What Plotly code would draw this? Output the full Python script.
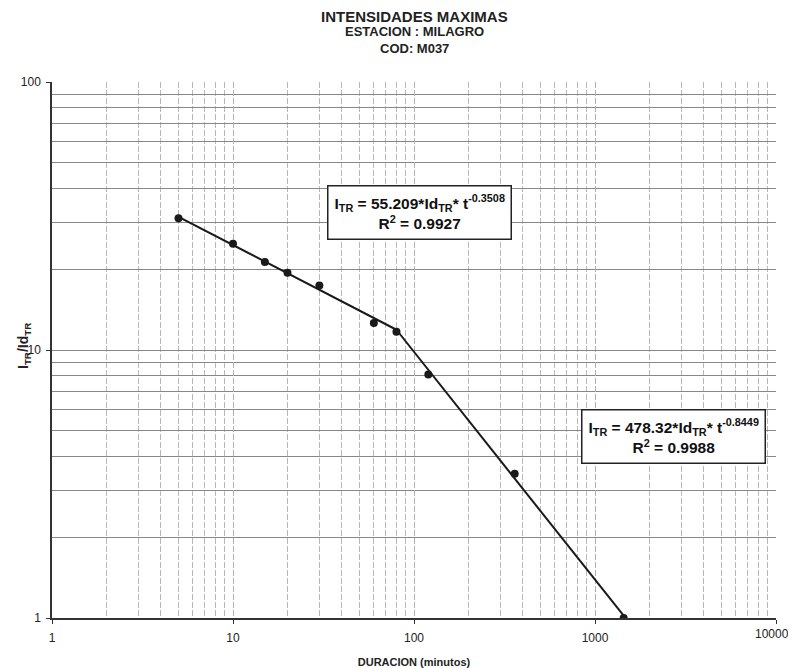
import plotly.graph_objects as go

# Data
duracion = [5, 10, 15, 20, 30, 60, 80, 120, 360, 1440]
intensidad = [31.0, 24.9, 21.3, 19.4, 17.4, 12.6, 11.7, 8.1, 3.45, 1.0]

# Trend-line segments (potential fits shown on chart)
trend1_x = [5, 80]
trend1_y = [31.4, 11.9]
trend2_x = [80, 1440]
trend2_y = [11.9, 1.02]

x_major = [1, 10, 100, 1000, 10000]
x_major_text = ["1", "10", "100", "1000", "10000"]
y_major = [1, 10, 100]
y_major_text = ["1", "10", "100"]
x_minor = [m * d for d in [1, 10, 100, 1000] for m in range(2, 10)]
y_minor = [m * d for d in [1, 10] for m in range(2, 10)]

eq1 = "I<sub>TR</sub> = 55.209*Id<sub>TR</sub>* t<sup>-0.3508</sup><br>R<sup>2</sup> = 0.9927"
eq2 = "I<sub>TR</sub> = 478.32*Id<sub>TR</sub>* t<sup>-0.8449</sup><br>R<sup>2</sup> = 0.9988"

font_family = "Liberation Sans, Arial, sans-serif"

fig = go.Figure()
fig.add_trace(go.Scatter(x=trend1_x, y=trend1_y, mode="lines",
                         line=dict(color="#1a1a1a", width=2), showlegend=False))
fig.add_trace(go.Scatter(x=trend2_x, y=trend2_y, mode="lines",
                         line=dict(color="#1a1a1a", width=2), showlegend=False))
fig.add_trace(go.Scatter(x=duracion, y=intensidad, mode="markers",
                         marker=dict(color="#1a1a1a", size=8), showlegend=False))

fig.update_layout(
    width=788, height=660,
    margin=dict(l=44, r=20, t=74, b=50),
    paper_bgcolor="white", plot_bgcolor="white",
    font=dict(family=font_family, size=12, color="#222"),
    showlegend=False,
)

# last x tick label sits at the right edge; draw it as an annotation so it is not dropped
x_ticktext_axis = x_major_text[:-1] + [""]

fig.update_xaxes(
    type="log", range=[0, 4], automargin=False,
    tickmode="array", tickvals=x_major, ticktext=x_ticktext_axis,
    showgrid=True, gridcolor="#b0b0b0", gridwidth=1, griddash="6px,2px",
    showline=True, linecolor="#333", linewidth=1.5,
    ticks="outside", ticklen=4, tickcolor="#333", ticklabelstandoff=4,
    tickfont=dict(size=12, color="#222"),
    minor=dict(tickmode="array", tickvals=x_minor, showgrid=True,
               gridcolor="#b8b8b8", gridwidth=1, griddash="6px,2px", ticks=""),
    zeroline=False,
    title=dict(text="<b>DURACION (minutos)</b>", font=dict(size=11, color="#222"), standoff=14),
)
fig.add_annotation(text=x_major_text[-1], xref="paper", yref="paper",
                   x=1, y=0, xanchor="right", yanchor="top", xshift=15, yshift=-7,
                   showarrow=False, font=dict(size=12, color="#222"))

fig.update_yaxes(
    type="log", range=[0, 2], automargin=False,
    tickmode="array", tickvals=y_major, ticktext=y_major_text,
    showgrid=True, gridcolor="#888888", gridwidth=1,
    showline=True, linecolor="#333", linewidth=1.5,
    ticks="outside", ticklen=4, tickcolor="#333", ticklabelstandoff=3,
    tickfont=dict(size=12, color="#222"),
    minor=dict(tickmode="array", tickvals=y_minor, showgrid=True,
               gridcolor="#888888", gridwidth=1, ticks=""),
    zeroline=False,
)

# Y axis label (placed close to the tick labels, as in the original)
fig.add_annotation(text="<b>I<sub>TR</sub>/Id<sub>TR</sub></b>", xref="paper", yref="paper",
                   x=0, y=0.5, xshift=-28, yshift=4, xanchor="center", yanchor="middle",
                   textangle=-90, showarrow=False, font=dict(size=14, color="#222"))

# Titles
fig.add_annotation(text="<b>INTENSIDADES MAXIMAS</b>", xref="paper", yref="paper",
                   x=0.5, y=1, yshift=66, yanchor="middle", showarrow=False,
                   font=dict(size=15, color="#222"))
fig.add_annotation(text="<b>ESTACION : MILAGRO</b>", xref="paper", yref="paper",
                   x=0.5, y=1, yshift=51, yanchor="middle", showarrow=False,
                   font=dict(size=13, color="#222"))
fig.add_annotation(text="<b>COD: M037</b>", xref="paper", yref="paper",
                   x=0.5, y=1, yshift=34, yanchor="middle", showarrow=False,
                   font=dict(size=13, color="#222"))

# Equation boxes
fig.add_annotation(text="<b>" + eq1 + "</b>", x=2.03, y=1.513, xref="x", yref="y",
                   showarrow=False, align="center", font=dict(size=15.5, color="#111"),
                   bordercolor="#222", borderwidth=1.5, borderpad=6, bgcolor="white")
fig.add_annotation(text="<b>" + eq2 + "</b>", x=3.436, y=0.679, xref="x", yref="y",
                   showarrow=False, align="center", font=dict(size=15.5, color="#111"),
                   bordercolor="#222", borderwidth=1.5, borderpad=6, bgcolor="white")

fig.write_html("out.html")
